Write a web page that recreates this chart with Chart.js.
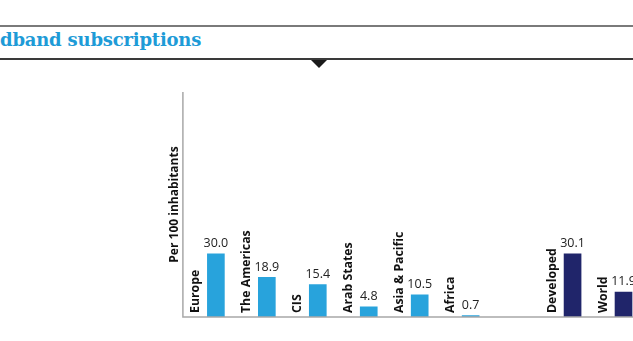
<!DOCTYPE html>
<html>
<head>
<meta charset="utf-8">
<script src="https://cdn.jsdelivr.net/npm/chart.js@4/dist/chart.umd.min.js"></script>
<style>
  html, body { margin: 0; padding: 0; background: #fff; overflow: hidden; width: 633px; height: 341px; }
  #top { position: absolute; left: 0; top: 25px; width: 633px; height: 0; border-top: 2px solid #7a7a7a; }
  #bot { position: absolute; left: 0; top: 58px; width: 633px; height: 0; border-top: 2px solid #3a3a3a; }
  #tri { position: absolute; left: 311px; top: 60px; width: 0; height: 0;
         border-left: 8px solid transparent; border-right: 8px solid transparent; border-top: 8px solid #1a1a1a; }
  #title { position: absolute; left: 0; top: 29px; font-family: "DejaVu Serif", serif; font-weight: bold;
           font-size: 18px; color: #1e9bd7; white-space: nowrap; letter-spacing: -0.2px; }
  #wrap { position: absolute; left: 0; top: 70px; width: 680px; height: 271px; }
</style>
</head>
<body>
<div id="top"></div>
<div id="bot"></div>
<div id="tri"></div>
<div id="title">dband subscriptions</div>
<div id="wrap"><canvas id="c" width="680" height="271"></canvas></div>
<script>
// ---- data ----
const categories = ['Europe', 'The Americas', 'CIS', 'Arab States', 'Asia & Pacific', 'Africa', '', 'Developed', 'World'];
const values = [30.0, 18.9, 15.4, 4.8, 10.5, 0.7, null, 30.1, 11.9];
const aggregates = ['Developed', 'World'];
const yTitle = 'Per 100 inhabitants';

const BLUE = '#28a3dc';
const NAVY = '#20256a';

const labelPlugin = {
  id: 'labels',
  afterDatasetsDraw(chart) {
    const ctx = chart.ctx;
    const meta = chart.getDatasetMeta(0);
    const area = chart.chartArea;
    ctx.save();
    // axes lines
    ctx.strokeStyle = '#a8a8a8';
    ctx.lineWidth = 1.5;
    const ax = area.left - 7.5;
    ctx.beginPath();
    ctx.moveTo(ax, area.top);
    ctx.lineTo(ax, area.bottom);
    ctx.lineTo(chart.width, area.bottom);
    ctx.stroke();
    meta.data.forEach((bar, i) => {
      const v = values[i];
      if (v === null || v === undefined) return;
      // value label
      ctx.fillStyle = '#222';
      ctx.font = '12.5px "Open Sans", sans-serif';
      ctx.textAlign = 'center';
      ctx.textBaseline = 'bottom';
      ctx.fillText(v.toFixed(1), bar.x, bar.y - 4);
      // category label, rotated
      ctx.save();
      ctx.translate(bar.x - 20, area.bottom - 4);
      ctx.rotate(-Math.PI / 2);
      ctx.font = 'bold 12.3px "Open Sans", sans-serif';
      ctx.fillStyle = '#111';
      ctx.textAlign = 'left';
      ctx.textBaseline = 'middle';
      ctx.fillText(categories[i], 0, 0);
      ctx.restore();
    });
    ctx.restore();
  }
};

new Chart(document.getElementById('c'), {
  type: 'bar',
  data: {
    labels: categories,
    datasets: [{
      data: values,
      backgroundColor: (c) => aggregates.includes(categories[c.dataIndex]) ? NAVY : BLUE,
      barThickness: 17,
      borderWidth: 0
    }]
  },
  options: {
    responsive: false,
    animation: false,
    layout: { padding: { left: 167, right: 31, top: 22, bottom: 24 } },
    plugins: { legend: { display: false }, tooltip: { enabled: false } },
    scales: {
      x: {
        offset: true,
        grid: { display: false, drawTicks: false },
        border: { display: false },
        ticks: { display: false }
      },
      y: {
        min: 0, max: 107,
        grid: { display: false, drawTicks: false },
        border: { display: false },
        ticks: { display: false },
        title: {
          display: true, text: yTitle, color: '#111',
          font: { family: '"Open Sans", sans-serif', size: 12, weight: 'bold' },
          padding: { top: 0, bottom: 9 }
        }
      }
    }
  },
  plugins: [labelPlugin]
});
</script>
</body>
</html>
